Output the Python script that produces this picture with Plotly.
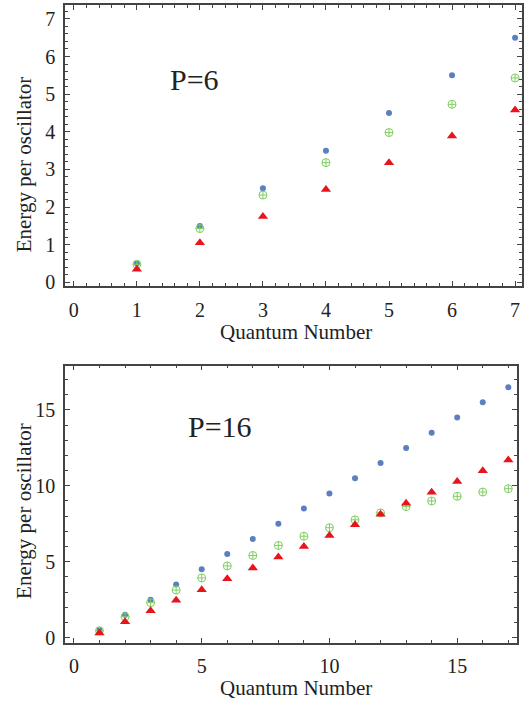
import plotly.graph_objects as go

# ---- data ----
n_top = [1, 2, 3, 4, 5, 6, 7]
blue_top = [0.5, 1.5, 2.5, 3.5, 4.5, 5.5, 6.5]
green_top = [0.48, 1.43, 2.32, 3.18, 3.98, 4.73, 5.43]
red_top = [0.35, 1.05, 1.75, 2.47, 3.18, 3.89, 4.58]

n_bot = list(range(1, 18))
blue_bot = [0.5, 1.5, 2.5, 3.5, 4.5, 5.5, 6.5, 7.5, 8.5, 9.5, 10.5, 11.5, 12.5, 13.5, 14.5, 15.5, 16.5]
green_bot = [0.45, 1.37, 2.3, 3.13, 3.93, 4.72, 5.41, 6.07, 6.68, 7.24, 7.76, 8.22, 8.63, 9.0, 9.31, 9.59, 9.81]
red_bot = [0.3, 1.04, 1.76, 2.46, 3.15, 3.87, 4.59, 5.31, 6.0, 6.72, 7.44, 8.13, 8.85, 9.57, 10.29, 11.0, 11.7]

xticks_top = [0, 1, 2, 3, 4, 5, 6, 7]
yticks_top = [0, 1, 2, 3, 4, 5, 6, 7]
xticks_bot = [0, 5, 10, 15]
yticks_bot = [0, 5, 10, 15]

x_title = "Quantum Number"
y_title = "Energy per oscillator"
labels = ["P=6", "P=16"]

BLUE = "#5b80bf"
GREEN = "#7fcf62"
RED = "#e8131b"
FRAME = "#444444"
TXT = "#222222"
FONT = "Liberation Serif"

W, H = 524, 708

fig = go.Figure()

def add_series(n, b, g, r, xa, ya):
    fig.add_trace(go.Scatter(x=n, y=b, mode="markers", xaxis=xa, yaxis=ya, cliponaxis=False,
                             marker=dict(symbol="circle", size=6, color=BLUE, line=dict(width=0)),
                             showlegend=False))
    fig.add_trace(go.Scatter(x=n, y=g, mode="markers", xaxis=xa, yaxis=ya, cliponaxis=False,
                             marker=dict(symbol="circle-cross-open", size=8, color=GREEN,
                                         line=dict(width=1, color=GREEN)),
                             showlegend=False))
    fig.add_trace(go.Scatter(x=n, y=r, mode="markers", xaxis=xa, yaxis=ya, cliponaxis=False,
                             marker=dict(symbol="triangle-up", size=9, color=RED, line=dict(width=0)),
                             showlegend=False))

add_series(n_top, blue_top, green_top, red_top, "x", "y")
add_series(n_bot, blue_bot, green_bot, red_bot, "x2", "y2")

def axis(domain, rng, tickvals, minor_dtick, anchor, standoff):
    return dict(
        domain=domain, range=rng, anchor=anchor,
        tickmode="array", tickvals=tickvals,
        ticks="inside", ticklen=5, tickwidth=1.2, tickcolor=FRAME,
        minor=dict(dtick=minor_dtick, ticks="inside", ticklen=3, tickwidth=1, tickcolor=FRAME, showgrid=False),
        showline=True, linecolor=FRAME, linewidth=1.5, mirror="ticks",
        showgrid=False, zeroline=False,
        tickfont=dict(family=FONT, size=20, color=TXT),
        ticklabelstandoff=standoff,
    )

def px(xp):
    return xp / W

def py(yp):
    return 1 - yp / H

annotations = [
    dict(text=labels[0], x=1.92, y=5.4, xref="x", yref="y", showarrow=False,
         font=dict(family=FONT, size=30, color=TXT)),
    dict(text=labels[1], x=5.7, y=13.9, xref="x2", yref="y2", showarrow=False,
         font=dict(family=FONT, size=30, color=TXT)),
]
for (xc, yc) in [(295.5, 335.5), (295.5, 695)]:
    annotations.append(dict(text=x_title, x=px(xc), y=py(yc), xref="paper", yref="paper",
                            showarrow=False, xanchor="center", yanchor="middle",
                            font=dict(family=FONT, size=21, color=TXT)))
for (xc, yc) in [(24, 166), (24, 516)]:
    annotations.append(dict(text=y_title, x=px(xc), y=py(yc), xref="paper", yref="paper",
                            showarrow=False, xanchor="center", yanchor="middle", textangle=-90,
                            font=dict(family=FONT, size=21, color=TXT)))

fig.update_layout(
    width=W, height=H,
    margin=dict(l=0, r=0, t=0, b=0),
    paper_bgcolor="white", plot_bgcolor="white",
    xaxis=axis([px(65), px(522)], [-0.14, 7.11], xticks_top, 0.2, "y", 5),
    yaxis=axis([py(289), py(5)], [-0.1, 7.37], yticks_top, 0.2, "x", 4),
    xaxis2=axis([px(65), px(517)], [-0.35, 17.34], xticks_bot, 1, "y2", 4),
    yaxis2=axis([py(649.3), py(369.3)], [-0.35, 17.92], yticks_bot, 1, "x2", 4),
    annotations=annotations,
)

fig.write_html("out.html", config={"displayModeBar": False},
               post_script="document.body.style.margin='0';document.body.style.overflow='hidden';")
